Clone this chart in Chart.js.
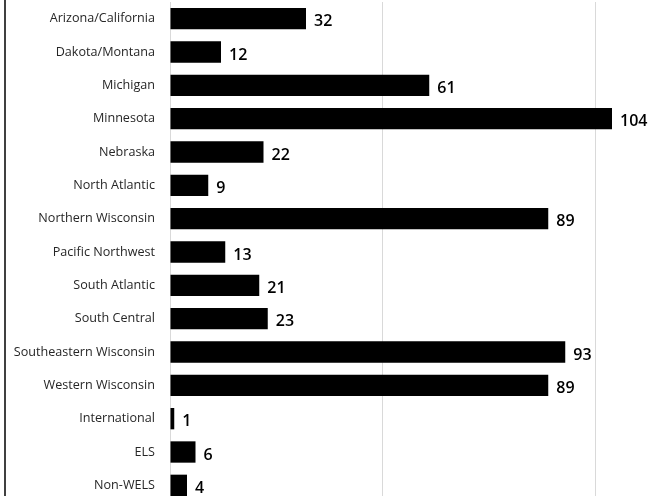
<!DOCTYPE html>
<html>
<head>
<meta charset="utf-8">
<script src="https://cdn.jsdelivr.net/npm/chart.js@4.4.1/dist/chart.umd.min.js"></script>
<style>
  html, body { margin: 0; padding: 0; background: #fff; overflow: hidden; }
  #wrap { position: relative; width: 650px; height: 496px; overflow: hidden; }
  #box { position: absolute; left: 0; top: 0; width: 690px; height: 510px; }
</style>
</head>
<body>
<div id="wrap">
  <div id="box"><canvas id="chart"></canvas></div>
</div>
<script>
const districts = [
  "Arizona/California",
  "Dakota/Montana",
  "Michigan",
  "Minnesota",
  "Nebraska",
  "North Atlantic",
  "Northern Wisconsin",
  "Pacific Northwest",
  "South Atlantic",
  "South Central",
  "Southeastern Wisconsin",
  "Western Wisconsin",
  "International",
  "ELS",
  "Non-WELS",
];
const counts = [32, 12, 61, 104, 22, 9, 89, 13, 21, 23, 93, 89, 1, 6, 4];
const xTicks = [0, 50, 100];

const labelFont = "'Open Sans', 'Noto Sans', sans-serif";

// value printed just past the end of each bar
const valueLabels = {
  id: "valueLabels",
  afterDatasetsDraw(chart) {
    const { ctx } = chart;
    const meta = chart.getDatasetMeta(0);
    ctx.save();
    ctx.fillStyle = "#000";
    ctx.font = `600 16px ${labelFont}`;
    ctx.textAlign = "left";
    ctx.textBaseline = "middle";
    meta.data.forEach((bar, i) => {
      ctx.fillText(String(counts[i]), bar.x + 8, bar.y + 3);
    });
    ctx.restore();
  },
};

// thin frame line on the left edge
const leftRule = {
  id: "leftRule",
  afterDraw(chart) {
    const { ctx } = chart;
    ctx.save();
    ctx.strokeStyle = "#000";
    ctx.lineWidth = 1.5;
    ctx.beginPath();
    ctx.moveTo(5, 0);
    ctx.lineTo(5, chart.height);
    ctx.stroke();
    ctx.restore();
  },
};

new Chart(document.getElementById("chart"), {
  type: "bar",
  data: {
    labels: districts,
    datasets: [{
      data: counts,
      backgroundColor: "#000",
      borderWidth: 0,
      barPercentage: 0.64,
      categoryPercentage: 1,
    }],
  },
  options: {
    indexAxis: "y",
    responsive: true,
    maintainAspectRatio: false,
    animation: false,
    layout: { padding: { top: 2, bottom: 8, right: 10, left: 0 } },
    plugins: {
      legend: { display: false },
      tooltip: { enabled: false },
    },
    scales: {
      x: {
        min: 0,
        max: 120,
        afterBuildTicks: (scale) => {
          scale.ticks = xTicks.map((value) => ({ value }));
        },
        afterFit: (scale) => { scale.height = 0; },
        ticks: { display: false },
        grid: { color: "#d9d9d9", drawTicks: false },
        border: { display: false },
      },
      y: {
        afterFit: (scale) => {
          scale.width = 170;
          scale.paddingTop = 0;
          scale.paddingBottom = 0;
        },
        ticks: {
          color: "#262626",
          padding: 15,
          font: { family: labelFont, size: 12.6 },
        },
        grid: { display: false, drawTicks: false },
        border: { color: "#d9d9d9" },
      },
    },
  },
  plugins: [valueLabels, leftRule],
});
</script>
</body>
</html>
